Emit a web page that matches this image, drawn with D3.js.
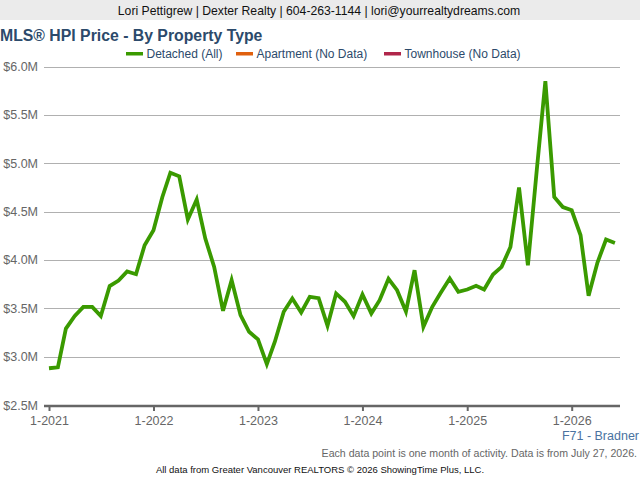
<!DOCTYPE html>
<html><head><meta charset="utf-8">
<script src="https://cdn.jsdelivr.net/npm/d3@7/dist/d3.min.js"></script>
<style>
body{margin:0;background:#fff;}
svg{display:block;font-family:"Liberation Sans",Arial,Helvetica,sans-serif;}
</style></head>
<body>
<script>
const startYear = 2021, startMonth = 0;
const detachedValues = [
 2.88,2.89,3.29,3.42,3.515,3.515,3.42,3.73,3.787,3.88,3.852,4.152,
 4.307,4.651,4.902,4.864,4.417,4.624,4.221,3.928,3.474,3.791,3.429,3.257,
 3.178,2.923,3.154,3.464,3.601,3.457,3.618,3.605,3.319,3.653,3.567,3.419,
 3.643,3.447,3.584,3.804,3.687,3.467,3.894,3.309,3.515,3.663,3.808,3.670,
 3.694,3.732,3.694,3.849,3.928,4.134,4.748,3.945,4.93,5.848,4.651,4.547,
 4.513,4.255,3.629,3.973,4.211,4.176
];
const yTicks = [2.5,3.0,3.5,4.0,4.5,5.0,5.5,6.0];
const xTickLabels = ["1-2021","1-2022","1-2023","1-2024","1-2025","1-2026"];
const legendItems = [
 {name:"Detached (All)", color:"#3a9a00"},
 {name:"Apartment (No Data)", color:"#e0600e"},
 {name:"Townhouse (No Data)", color:"#b0264a"}
];
const headerText = "Lori Pettigrew | Dexter Realty | 604-263-1144 | lori@yourrealtydreams.com";
const titleText = "MLS® HPI Price - By Property Type";
const areaText = "F71 - Bradner";
const noteText = "Each data point is one month of activity. Data is from July 27, 2026.";
const footerText = "All data from Greater Vancouver REALTORS © 2026 ShowingTime Plus, LLC.";

const W=640,H=480;
const svg=d3.select("body").append("svg").attr("width",W).attr("height",H);

svg.append("rect").attr("x",0).attr("y",0).attr("width",W).attr("height",20).attr("fill","#ebebeb");
svg.append("text").attr("x",319).attr("y",15).attr("text-anchor","middle")
  .attr("font-size",12.2).attr("fill","#111").text(headerText);
svg.append("text").attr("x",0).attr("y",41).attr("font-size",15.8).attr("font-weight","bold")
  .attr("fill","#2c4a6b").text(titleText);

// legend
const lg=svg.append("g");
const legendX=[126,236,384];
legendItems.forEach((d,i)=>{
  const g=lg.append("g").attr("transform",`translate(${legendX[i]},54)`);
  g.append("rect").attr("x",0).attr("y",-2).attr("width",17).attr("height",3.5).attr("fill",d.color);
  g.append("text").attr("x",20.5).attr("y",4).attr("font-size",12).attr("fill","#2c4a6b").text(d.name);
});

const dates=detachedValues.map((v,i)=>new Date(startYear,startMonth+i,1));
const x=d3.scaleTime().domain([new Date(2021,0,1),new Date(2026,0,1)]).range([49,571.7]);
const y=d3.scaleLinear().domain([2.5,6.0]).range([405,66.5]);
const plotL=44, plotR=620;

// gridlines
svg.append("g").selectAll("line").data(yTicks.filter(t=>t>2.5)).join("line")
  .attr("x1",plotL).attr("x2",plotR).attr("y1",d=>Math.round(y(d))+0.5).attr("y2",d=>Math.round(y(d))+0.5)
  .attr("stroke","#b0b0b0").attr("stroke-width",1);

// y labels
svg.append("g").selectAll("text").data(yTicks).join("text")
  .attr("x",38).attr("y",d=>y(d)+4.5).attr("text-anchor","end").attr("font-size",12.5)
  .attr("fill","#666").text(d=>"$"+d.toFixed(1)+"M");

// x axis
const xTickDates=xTickLabels.map(s=>new Date(+s.split("-")[1],+s.split("-")[0]-1,1));
const xAxis=d3.axisBottom(x).tickValues(xTickDates).tickSize(5).tickFormat((d,i)=>xTickLabels[i]);
const ax=svg.append("g").attr("transform","translate(0,406)").call(xAxis);
ax.select(".domain").remove();
ax.append("line").attr("x1",plotL).attr("x2",plotR).attr("y1",0).attr("y2",0).attr("stroke","#666").attr("stroke-width",2.5);
ax.selectAll(".tick line").attr("stroke","#666").attr("stroke-width",2);
ax.selectAll(".tick text").attr("font-size",12.5).attr("fill","#666").attr("dy","0.85em")
  .attr("font-family","\"Liberation Sans\",Arial,sans-serif");

// line
const line=d3.line().x((d,i)=>x(dates[i])).y(d=>y(d));
svg.append("path").datum(detachedValues).attr("d",line).attr("fill","none")
  .attr("stroke","#3a9a00").attr("stroke-width",3.8).attr("stroke-linejoin","miter").attr("stroke-linecap","butt");

svg.append("text").attr("x",639).attr("y",440).attr("text-anchor","end").attr("font-size",12.5)
  .attr("fill","#4a72a0").text(areaText);
svg.append("text").attr("x",637).attr("y",457).attr("text-anchor","end").attr("font-size",10.6)
  .attr("fill","#666").text(noteText);
svg.append("text").attr("x",320).attr("y",473).attr("text-anchor","middle").attr("font-size",9.5)
  .attr("fill","#111").text(footerText);
</script>
</body></html>
